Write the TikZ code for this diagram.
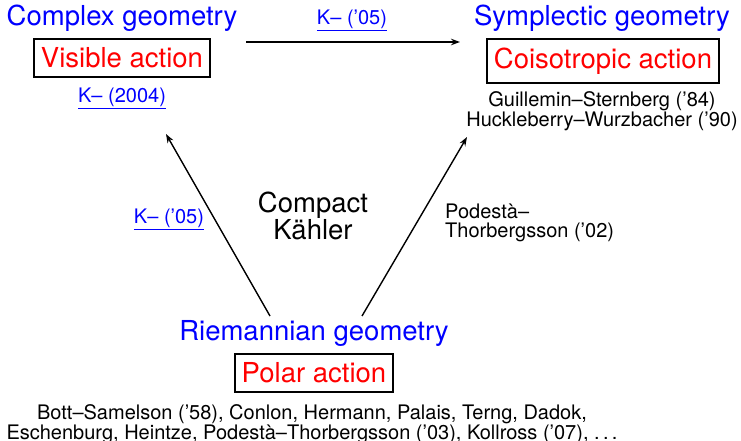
\documentclass[tikz,border=0pt]{standalone}
\usepackage{fontspec}
\setmainfont{TeX Gyre Heros}
\usetikzlibrary{arrows.meta}
\definecolor{tblue}{RGB}{0,0,255}
\definecolor{tred}{RGB}{255,0,0}
\tikzset{
  big/.style={font=\fontsize{27.5}{26}\selectfont},
  small/.style={font=\fontsize{20}{19.5}\selectfont},
  geo/.style={big, text=tblue, inner sep=0pt},
  actbox/.style={big, text=tred, draw=black, line width=2.4pt, inner xsep=7pt, inner ysep=8.5pt},
  ref/.style={small, text=tblue, inner sep=0pt},
  plain/.style={small, text=black, inner sep=0pt},
  arr/.style={line width=1.4pt, -{Stealth[length=9pt,width=6.5pt,inset=3pt]}}
}
\begin{document}
\begin{tikzpicture}[x=1pt,y=-1pt]
\useasboundingbox (0,0) rectangle (741,441);
% top left
\node[geo] (cg) at (122,18) {Complex geometry};
\node[actbox] (vis) at (122,58) {Visible action};
\node[ref] (k04) at (122,98) {\underline{K– (2004)}};
% top right
\node[geo] (sg) at (602,18) {Symplectic geometry};
\node[actbox] (cois) at (603,61) {Coisotropic action};
\node[plain, align=center, font=\fontsize{20}{20}\selectfont] (gs) at (602,111) {Guillemin–Sternberg (’84)\\Huckleberry–Wurzbacher (’90)};
% bottom
\node[geo] (rg) at (314,333) {Riemannian geometry};
\node[actbox] (pol) at (314,373) {Polar action};
\node[plain, align=center, font=\fontsize{20}{18}\selectfont] (bs) at (312,424) {Bott–Samelson (’58), Conlon, Hermann, Palais, Terng, Dadok,\\Eschenburg, Heintze, Podestà–Thorbergsson (’03), Kollross (’07), .\,.\,.};
% middle
\node[big, align=center, inner sep=0pt, font=\fontsize{27.5}{26}\selectfont] (ck) at (313,216) {Compact\\Kähler};
\node[ref] (k05a) at (169,219) {\underline{K– (’05)}};
\node[plain, align=left, anchor=west] (pt) at (445,223) {Podestà–\\Thorbergsson (’02)};
\node[ref] (k05b) at (352,20) {\underline{K– (’05)}};
% connectors
\coordinate (t1) at (246,42);
\coordinate (t2) at (460,42);
\draw[arr] (t1) -- (t2);
\coordinate (l1) at (270,316);
\coordinate (l2) at (166,134);
\draw[arr] (l1) -- (l2);
\coordinate (r1) at (362,316);
\coordinate (r2) at (467,137);
\draw[arr] (r1) -- (r2);
\end{tikzpicture}
\end{document}
